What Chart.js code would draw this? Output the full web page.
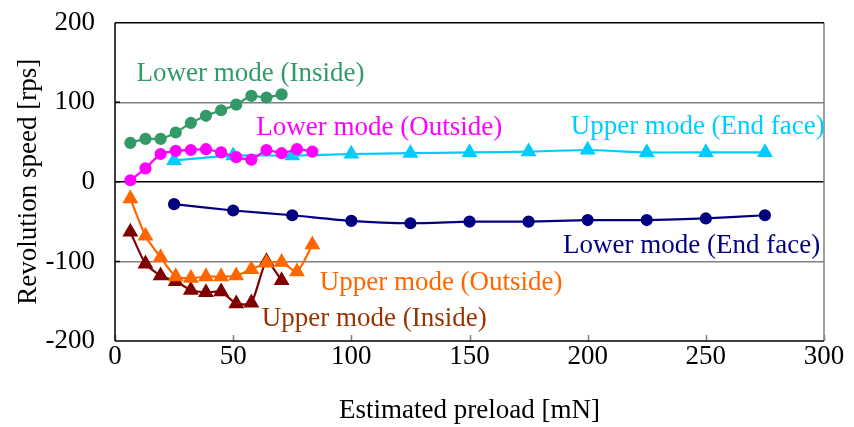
<!DOCTYPE html>
<html>
<head>
<meta charset="utf-8">
<script src="https://cdn.jsdelivr.net/npm/chart.js@4"></script>
<style>
  html, body { margin: 0; padding: 0; background: #fff; }
  #wrap { width: 854px; height: 427px; }
</style>
</head>
<body>
<div id="wrap"><canvas id="c" width="854" height="427"></canvas></div>
<script>
// preload [mN] for the short sweeps (inside / outside)
const preloadShort = [6.5, 12.9, 19.3, 25.7, 32.1, 38.5, 44.9, 51.3, 57.7, 64.1, 70.5, 77.0, 83.5];
// preload [mN] for the end face sweeps
const preloadEnd = [25, 50, 75, 100, 125, 150, 175, 200, 225, 250, 275];

const lowerInside  = [49, 54, 54, 62, 74, 83, 90, 97, 108, 106, 110];
const lowerOutside = [2, 17, 35, 39, 40, 41, 37, 31, 28, 40, 36, 41, 38];
const upperEnd     = [27, 33, 33, 35, 36, 37, 38, 40, 37, 37, 37];
const lowerEnd     = [-28, -36, -42, -49, -52, -50, -50, -48, -48, -46, -42];
const upperOutside = [-21, -68, -95, -119, -121, -119, -119, -118, -110, -102, -101, -113, -79];
const upperInside  = [-63, -103, -118, -125, -136, -139, -138, -153, -152, -100, -124];

const xTicks = [0, 50, 100, 150, 200, 250, 300];
const yTicks = [-200, -100, 0, 100, 200];

function pts(xs, ys) {
  return ys.map((y, i) => ({ x: xs[i], y: y }));
}

const FONT = '"Liberation Serif", "Times New Roman", serif';
const FS = 27;

// series labels on the plot (data coordinates of left edge / baseline)
const seriesLabels = [
  { text: 'Lower mode (Inside)',   x: 9.1,   y: 127,  color: '#339966' },
  { text: 'Lower mode (Outside)',  x: 59.8,  y: 59,   color: '#ff00ff' },
  { text: 'Upper mode (End face)', x: 192.8, y: 60,   color: '#00ccff' },
  { text: 'Lower mode (End face)', x: 189.6, y: -89.5, color: '#000080' },
  { text: 'Upper mode (Outside)',  x: 86.6,  y: -135.5, color: '#ff6600' },
  { text: 'Upper mode (Inside)',   x: 62.1,  y: -181.5, color: '#993300' }
];

const labelPlugin = {
  id: 'labels',
  afterDatasetsDraw(chart) {
    const ctx = chart.ctx, xs = chart.scales.x, ys = chart.scales.y;
    ctx.save();
    ctx.font = FS + 'px ' + FONT;
    ctx.textBaseline = 'alphabetic';
    ctx.textAlign = 'left';
    seriesLabels.forEach(l => {
      ctx.fillStyle = l.color;
      ctx.fillText(l.text, xs.getPixelForValue(l.x), ys.getPixelForValue(l.y));
    });
    ctx.restore();
  }
};

// frame + inward tick marks like the original
const framePlugin = {
  id: 'frame',
  beforeDatasetsDraw(chart) {
    const ctx = chart.ctx, a = chart.chartArea, xs = chart.scales.x, ys = chart.scales.y;
    ctx.save();
    ctx.lineWidth = 1.5;
    ctx.strokeStyle = '#808080';
    ctx.beginPath();
    ctx.moveTo(a.right, a.top); ctx.lineTo(a.right, a.bottom);
    xTicks.forEach(v => {
      const px = Math.round(xs.getPixelForValue(v)) + 0.5;
      ctx.moveTo(px, a.bottom); ctx.lineTo(px, a.bottom - 6);
    });
    ctx.stroke();
    ctx.strokeStyle = '#000';
    ctx.beginPath();
    ctx.moveTo(a.left, a.top); ctx.lineTo(a.right, a.top);
    ctx.moveTo(a.left, a.bottom); ctx.lineTo(a.right, a.bottom);
    ctx.moveTo(a.left, a.top); ctx.lineTo(a.left, a.bottom);
    yTicks.forEach(v => {
      const py = ys.getPixelForValue(v);
      ctx.moveTo(a.left, py); ctx.lineTo(a.left + 5, py);
    });
    ctx.stroke();
    ctx.restore();
  }
};

function series(xs, ys, color, shape, r) {
  return {
    data: pts(xs, ys),
    borderColor: color,
    backgroundColor: color,
    pointBackgroundColor: color,
    pointBorderColor: color,
    pointStyle: shape,
    pointRadius: r,
    borderWidth: 2.2,
    showLine: true,
    tension: 0.2
  };
}

new Chart(document.getElementById('c'), {
  type: 'scatter',
  data: {
    datasets: [
      series(preloadShort, lowerInside, '#339966', 'circle', 5),
      series(preloadShort, lowerOutside, '#ff00ff', 'circle', 5),
      series(preloadEnd, upperEnd, '#00ccff', 'triangle', 7),
      series(preloadEnd, lowerEnd, '#000080', 'circle', 5),
      series(preloadShort, upperOutside, '#ff6600', 'triangle', 7),
      series(preloadShort, upperInside, '#800000', 'triangle', 7)
    ]
  },
  options: {
    responsive: false,
    animation: false,
    layout: { padding: { top: 0, right: 30, left: 0, bottom: 0 } },
    plugins: { legend: { display: false }, tooltip: { enabled: false } },
    scales: {
      x: {
        type: 'linear', min: 0, max: 300,
        afterBuildTicks: s => { s.ticks = xTicks.map(v => ({ value: v })); },
        afterFit: s => { s.height = 86; },
        grid: { display: false, drawTicks: false },
        border: { display: false },
        ticks: { color: '#000', font: { family: FONT, size: FS }, padding: 0, maxRotation: 0 },
        title: { display: true, text: 'Estimated preload [mN]', color: '#000',
                 font: { family: FONT, size: FS }, padding: { top: 0, bottom: 0 } }
      },
      y: {
        type: 'linear', min: -200, max: 200,
        afterBuildTicks: s => { s.ticks = yTicks.map(v => ({ value: v })); },
        afterFit: s => { s.width = 115; },
        grid: {
          drawTicks: true,
          tickLength: 13.5,
          tickColor: 'rgba(0,0,0,0)',
          lineWidth: 1.5,
          color: c => c.tick.value === 0 ? '#000' : (Math.abs(c.tick.value) === 100 ? '#808080' : 'rgba(0,0,0,0)')
        },
        border: { display: false },
        ticks: { color: '#000', font: { family: FONT, size: FS }, padding: 6.5 },
        title: { display: true, text: 'Revolution speed [rps]', color: '#000',
                 font: { family: FONT, size: FS }, padding: { top: 13, bottom: 0 } }
      }
    }
  },
  plugins: [framePlugin, labelPlugin]
});
</script>
</body>
</html>
